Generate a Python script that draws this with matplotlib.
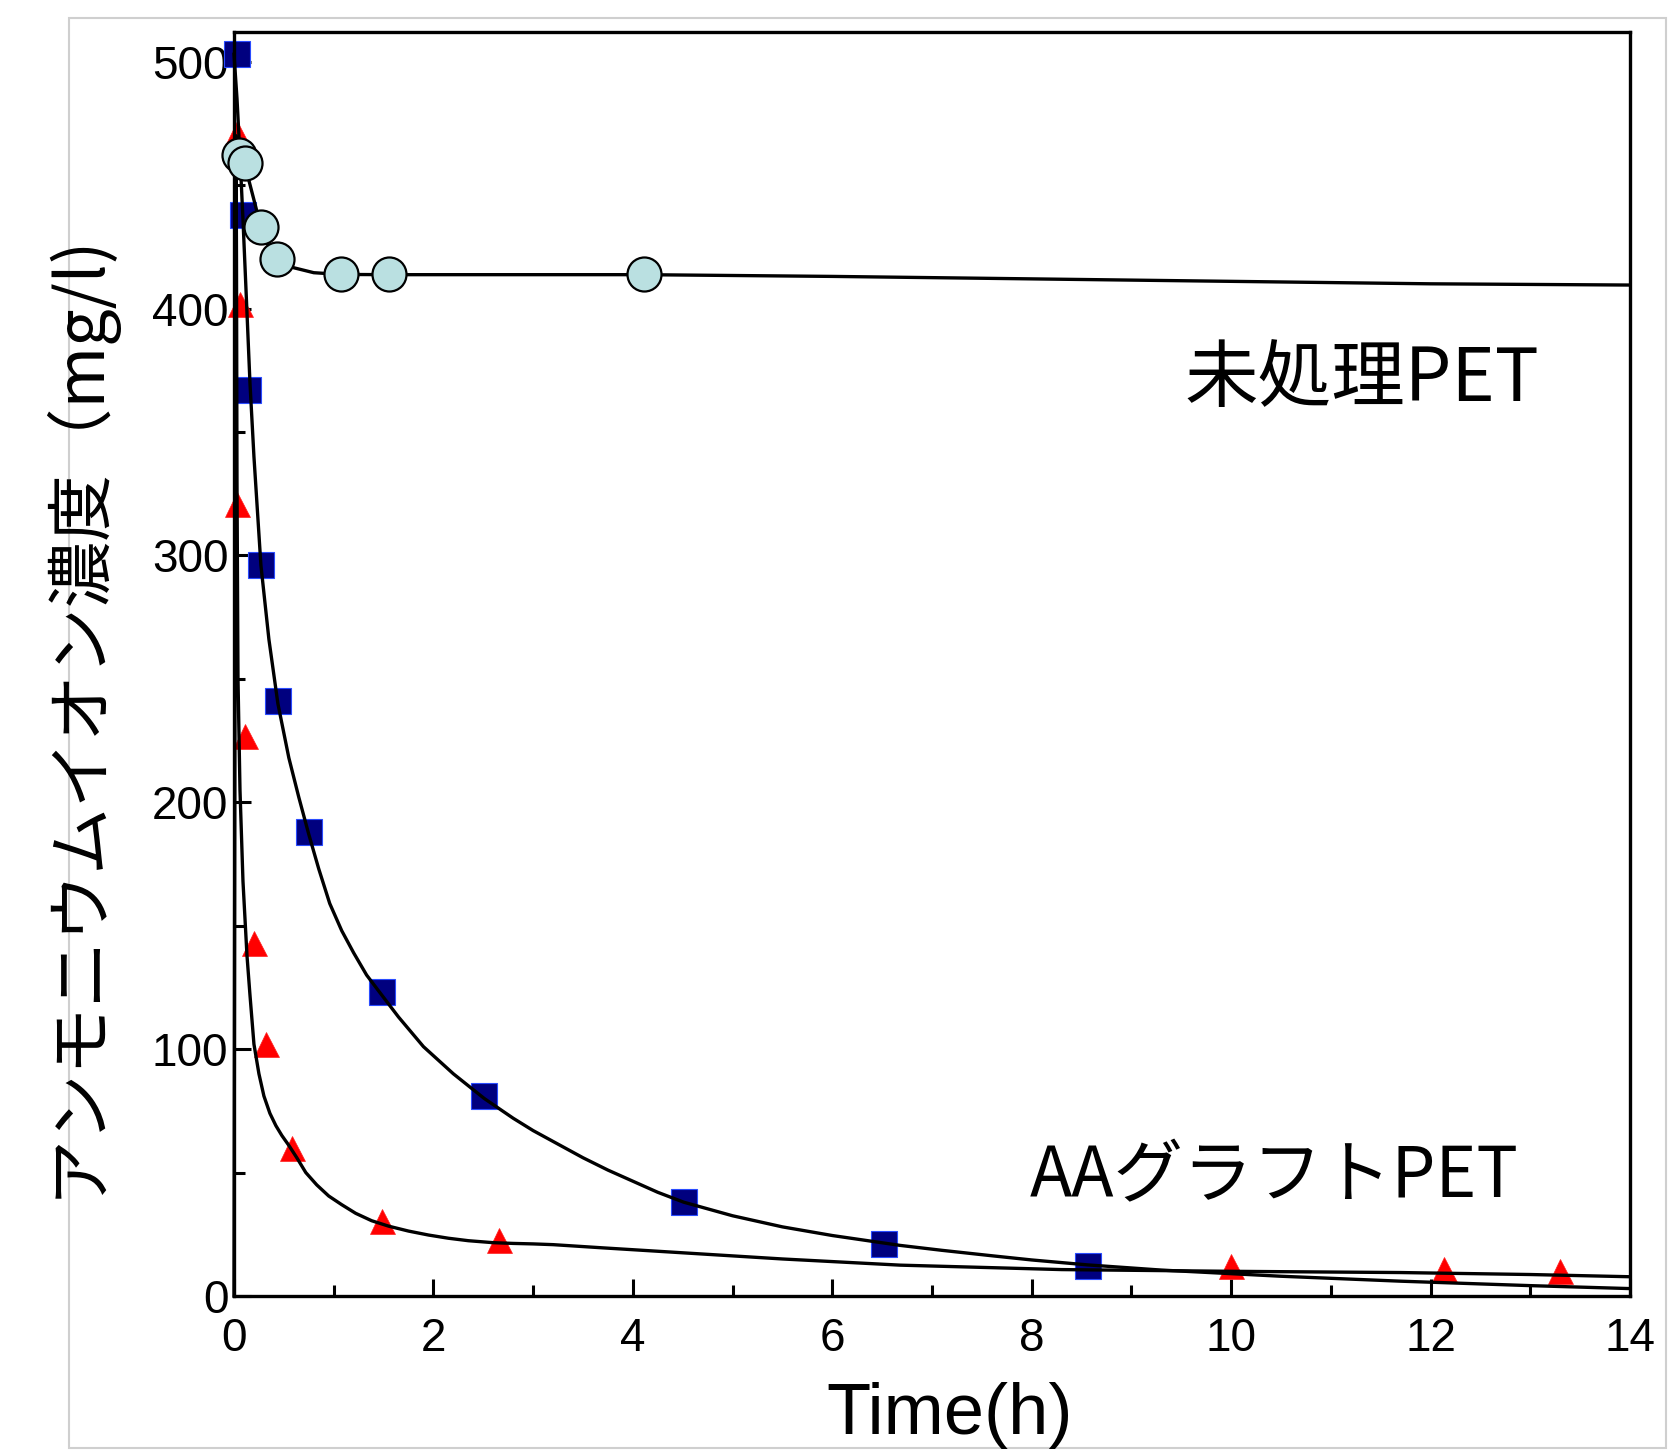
import matplotlib
matplotlib.use('Agg')
import matplotlib.pyplot as plt
from matplotlib.patches import Rectangle
from matplotlib.ticker import MultipleLocator

plt.rcParams['font.family'] = ['Noto Sans CJK JP', 'DejaVu Sans']

# 測定点 (Time(h), mg/l)
aa_sq_t = [0.03, 0.09, 0.14, 0.27, 0.44, 0.75, 1.48, 2.51, 4.51, 6.52, 8.56]
aa_sq_c = [503, 438, 367, 296, 241, 188, 123, 81, 38, 21, 12]

aa_tri_t = [0.03, 0.06, 0.03, 0.11, 0.20, 0.32, 0.58, 1.48, 2.66, 10.0, 12.13, 13.3]
aa_tri_c = [471, 402, 321, 227, 143, 102, 60, 30.5, 22.5, 12, 11, 10]

pet_t = [0.05, 0.11, 0.27, 0.43, 1.07, 1.55, 4.11]
pet_c = [462, 459, 433, 420, 414, 414, 414]

# 近似曲線
sq_fit_t = [0.0, 0.03, 0.06, 0.09, 0.12, 0.16, 0.2, 0.27, 0.35, 0.44, 0.55, 0.65,
            0.75, 0.85, 0.96, 1.08, 1.2, 1.33, 1.48, 1.65, 1.9, 2.2, 2.51, 2.8,
            3.0, 3.25, 3.5, 3.75, 4.0, 4.25, 4.51, 5.0, 5.5, 6.0, 6.68, 7.1, 7.6,
            8.0, 8.56, 9.3, 10.5, 11.7, 13.0, 14.0]
sq_fit_c = [503, 485, 462, 436, 408, 370, 340, 296, 266, 240, 218, 202,
            187, 173, 159, 148, 139, 130, 122, 113, 101, 90, 80, 72,
            67, 61.5, 56, 51, 46.5, 42, 38, 32.5, 28, 24.5, 20.5, 18.5, 16.3,
            14.6, 12.6, 10.5, 8, 6, 4.2, 3]

tri_fit_t = [0.0, 0.012, 0.02, 0.025, 0.03, 0.04, 0.06, 0.09, 0.13, 0.16, 0.2,
             0.25, 0.3, 0.36, 0.42, 0.48, 0.55, 0.63, 0.72, 0.83, 0.95, 1.08,
             1.22, 1.38, 1.55, 1.75, 1.95, 2.15, 2.35, 2.6, 2.8, 3.0, 3.2, 3.7,
             4.5, 5.5, 6.68, 8.3, 10.0, 11.7, 13.0, 14.0]
tri_fit_c = [0, 300, 470, 420, 330, 250, 205, 168, 138, 122, 102,
             90, 81, 74, 69, 65, 61, 56, 50, 45, 40.5, 37,
             33.5, 30.5, 28.3, 26.3, 24.7, 23.4, 22.4, 21.6, 21.3, 21.1, 20.8, 19.5,
             17.5, 15, 12.5, 10.7, 10, 9.5, 8.7, 7.8]

pet_fit_t = [0.0, 0.05, 0.11, 0.2, 0.27, 0.35, 0.43, 0.6, 0.8, 1.07, 1.56, 2.5,
             4.11, 6, 8, 10, 12, 14]
pet_fit_c = [462, 461, 458, 444, 433, 425, 420, 416.5, 414.5, 413.8, 413.7, 413.7,
             413.7, 413, 412, 411, 410, 409.5]

fig = plt.figure(figsize=(16.68, 14.5), dpi=100)
ax = fig.add_axes([234 / 1668, 1 - 1296 / 1450, (1630 - 234) / 1668, (1296 - 32) / 1450])

# 枠 (スクリーンショットの薄い枠)
fig.patches.append(Rectangle((69 / 1668, 2 / 1450), 1597 / 1668, 1430 / 1450,
                             transform=fig.transFigure, fill=False,
                             edgecolor='#cfcfcf', linewidth=1.5))

ax.plot(aa_sq_t, aa_sq_c, linestyle='none', marker='s', markersize=18.5,
        markerfacecolor='#00007f', markeredgecolor='#2a4cff', markeredgewidth=0.8,
        zorder=2, clip_on=False)
ax.plot(aa_tri_t, aa_tri_c, linestyle='none', marker='^', markersize=18,
        markerfacecolor='#ff0000', markeredgecolor='#ff2020', markeredgewidth=0.5,
        zorder=2, clip_on=False)

ax.plot(sq_fit_t, sq_fit_c, color='black', linewidth=2.4, zorder=3, clip_on=False,
        solid_joinstyle='round')
ax.plot(tri_fit_t, tri_fit_c, color='black', linewidth=2.4, zorder=3, clip_on=False,
        solid_joinstyle='round')
ax.plot(pet_fit_t, pet_fit_c, color='black', linewidth=2.4, zorder=3, clip_on=False,
        solid_joinstyle='round')

ax.plot(pet_t, pet_c, linestyle='none', marker='o', markersize=24.5,
        markerfacecolor='#bae0e1', markeredgecolor='black', markeredgewidth=1.6,
        zorder=4, clip_on=False)

ax.set_xlim(0, 14)
ax.set_ylim(0, 512)
ax.xaxis.set_major_locator(MultipleLocator(2))
ax.xaxis.set_minor_locator(MultipleLocator(1))
ax.yaxis.set_major_locator(MultipleLocator(100))
ax.yaxis.set_minor_locator(MultipleLocator(50))
ax.tick_params(which='both', direction='in', top=False, right=False, width=2.2)
ax.tick_params(which='major', length=12)
ax.tick_params(which='minor', length=8)
ax.tick_params(axis='x', which='major', pad=15)
ax.tick_params(axis='y', which='major', pad=4)
for lab in ax.get_xticklabels() + ax.get_yticklabels():
    lab.set_family('Liberation Sans')
    lab.set_fontsize(33)
for sp in ax.spines.values():
    sp.set_linewidth(2.4)

ax.text(11.31, 371, '未処理PET', fontsize=53, ha='center', va='center')
ax.text(10.43, 48, 'AAグラフトPET', fontsize=50, ha='center', va='center')

fig.text(77 / 1668, 1 - 715 / 1450, 'アンモニウムイオン濃度（mg/l)', fontsize=48,
         rotation=90, ha='center', va='center')
fig.text(950 / 1668, 16 / 1450, 'Time(h)', fontsize=52, family='Liberation Sans',
         ha='center', va='baseline')

fig.savefig('out.png', dpi=100)
